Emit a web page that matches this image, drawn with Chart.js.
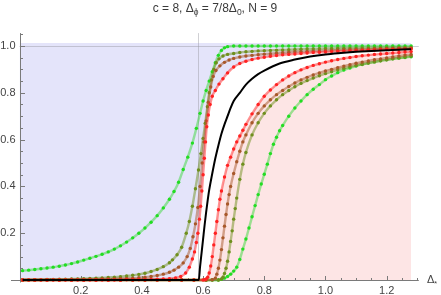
<!DOCTYPE html>
<html><head><meta charset="utf-8">
<script src="https://cdn.jsdelivr.net/npm/chart.js@4"></script>
<style>html,body{margin:0;padding:0;background:#fff}canvas{display:block}</style>
</head><body>
<canvas id="c" width="441" height="295" style="width:441px;height:295px"></canvas>
<script>
// ---------- data ----------
const xHeadL = [0.01,0.03,0.05,0.07,0.09,0.11,0.13,0.15,0.17,0.19,0.21,0.23,0.25,0.27,0.29,0.31,0.33,0.35,0.37,0.39,0.41,0.43,0.45,0.47,0.49];
const xTailL = [0.70,0.72,0.74,0.76,0.78,0.80,0.82,0.84,0.86,0.88,0.90,0.92,0.94,0.96,0.98,1.00,1.02,1.04,1.06,1.08,1.10,1.12,1.14,1.16,1.18,1.20,1.22,1.24,1.26,1.28];
const xHeadR = [0.01,0.05,0.09,0.13,0.17,0.21,0.25,0.29,0.33,0.37,0.41,0.45,0.49,0.53,0.57];
const xTailR = [0.74,0.76,0.78,0.80,0.82,0.84,0.86,0.88,0.90,0.92,0.94,0.96,0.98,1.00,1.02,1.04,1.06,1.08,1.10,1.12,1.14,1.16,1.18,1.20,1.22,1.24,1.26,1.28];
const zerosR = [0,0,0,0,0,0,0,0,0,0,0,0,0,0,0];

// left group
const g1Mid = [0.505,0.52,0.535,0.55,0.565,0.578,0.59,0.60,0.61,0.62,0.63,0.64,0.65,0.66,0.67,0.68];
const g1Y = [0.040,0.042,0.045,0.048,0.051,0.055,0.059,0.064,0.070,0.077,0.085,0.093,0.101,0.110,0.120,0.132,0.146,0.162,0.180,0.200,0.222,0.247,0.275,0.308,0.345,
  0.378,0.418,0.472,0.525,0.585,0.648,0.712,0.765,0.81,0.85,0.89,0.928,0.96,0.981,0.992,0.997,
  1.000,1.000,1.000,1.000,1.000,1.000,1.000,1.000,1.000,1.000,1.000,1.000,1.000,1.000,1.000,1.000,1.000,1.000,1.000,1.000,1.000,1.000,1.000,1.000,1.000,1.000,1.000,1.000,1.000,1.000];

const o1Mid = [0.50,0.515,0.53,0.545,0.555,0.565,0.575,0.585,0.593,0.60,0.607,0.614,0.62,0.627,0.635,0.643,0.652,0.665,0.68];
const o1Y = [0.000,0.000,0.001,0.001,0.002,0.002,0.003,0.003,0.004,0.005,0.006,0.007,0.008,0.009,0.011,0.012,0.014,0.017,0.020,0.024,0.029,0.036,0.045,0.057,0.074,
  0.086,0.108,0.14,0.20,0.25,0.315,0.39,0.47,0.54,0.605,0.67,0.74,0.80,0.855,0.90,0.928,0.945,0.957,0.964,
  0.968,0.972,0.975,0.977,0.979,0.980,0.981,0.982,0.983,0.984,0.985,0.986,0.987,0.987,0.988,0.989,0.989,0.990,0.990,0.991,0.991,0.992,0.992,0.992,0.993,0.993,0.993,0.994,0.994,0.994];

const b1Mid = [0.505,0.52,0.535,0.548,0.558,0.567,0.575,0.583,0.59,0.597,0.603,0.61,0.617,0.625,0.633,0.642,0.655,0.67,0.685];
const b1Y = [0.000,0.000,0.000,0.000,0.001,0.001,0.001,0.001,0.002,0.002,0.002,0.003,0.003,0.004,0.004,0.005,0.006,0.007,0.008,0.010,0.012,0.015,0.019,0.025,0.033,
  0.042,0.055,0.073,0.10,0.135,0.185,0.24,0.31,0.40,0.50,0.59,0.68,0.76,0.825,0.87,0.895,0.915,0.93,0.94,
  0.947,0.953,0.957,0.960,0.963,0.965,0.967,0.969,0.971,0.973,0.975,0.976,0.977,0.978,0.979,0.980,0.981,0.982,0.983,0.984,0.985,0.985,0.986,0.987,0.987,0.988,0.988,0.989,0.989,0.990];

const r1Mid = [0.51,0.527,0.543,0.555,0.565,0.572,0.578,0.583,0.588,0.592,0.596,0.60,0.604,0.608,0.612,0.617,0.623,0.63,0.64,0.652,0.665,0.68];
const r1Y = [0,0,0,0,0,0,0,0,0,0,0,0,0,0,0,0,0,0.001,0.001,0.001,0.001,0.002,0.003,0.004,0.006,
  0.009,0.015,0.03,0.055,0.09,0.12,0.16,0.20,0.26,0.315,0.38,0.45,0.52,0.59,0.655,0.705,0.75,0.785,0.81,0.837,0.86,0.885,
  0.910,0.925,0.935,0.942,0.948,0.952,0.956,0.959,0.962,0.964,0.966,0.968,0.970,0.972,0.973,0.974,0.976,0.977,0.978,0.979,0.980,0.981,0.982,0.983,0.984,0.985,0.985,0.986,0.986,0.987];

// black
const blackX = [0.01,0.586,0.59,0.595,0.60,0.605,0.61,0.615,0.62,0.63,0.64,0.65,0.66,0.67,0.68,0.69,0.70,0.72,0.74,0.76,0.78,0.80,0.85,0.90,0.95,1.00,1.05,1.10,1.15,1.20,1.25,1.28];
const blackY = [0,0,0.055,0.115,0.175,0.235,0.29,0.34,0.385,0.455,0.52,0.575,0.625,0.665,0.70,0.735,0.765,0.80,0.835,0.86,0.88,0.895,0.925,0.942,0.955,0.964,0.970,0.975,0.979,0.982,0.985,0.986];

// right group
const r2Mid = [0.60,0.605,0.61,0.615,0.62,0.625,0.63,0.635,0.64,0.645,0.65,0.655,0.66,0.67,0.68,0.69,0.70,0.71,0.72,0.73];
const r2Y = [0,0.001,0.004,0.012,0.03,0.06,0.10,0.15,0.20,0.25,0.30,0.345,0.38,0.44,0.49,0.525,0.56,0.59,0.615,0.64,
  0.665,0.71,0.75,0.785,0.812,0.835,0.855,0.872,0.886,0.898,0.908,0.917,0.924,0.931,0.937,0.942,0.947,0.951,0.955,0.958,0.961,0.964,0.966,0.968,0.970,0.972,0.974,0.976];

const b2Mid = [0.61,0.63,0.64,0.645,0.65,0.655,0.66,0.665,0.67,0.675,0.68,0.685,0.69,0.70,0.71,0.72,0.73];
const b2Y = [0,0.001,0.008,0.025,0.05,0.085,0.13,0.18,0.23,0.28,0.325,0.365,0.40,0.455,0.505,0.55,0.59,
  0.62,0.672,0.712,0.744,0.77,0.792,0.81,0.827,0.842,0.855,0.866,0.876,0.885,0.893,0.900,0.907,0.914,0.920,0.926,0.931,0.936,0.941,0.945,0.949,0.953,0.957,0.961,0.964];

const o2Mid = [0.61,0.63,0.65,0.66,0.665,0.67,0.675,0.68,0.685,0.69,0.695,0.70,0.705,0.71,0.72,0.73];
const o2Y = [0,0,0,0.004,0.012,0.028,0.05,0.08,0.12,0.165,0.21,0.26,0.305,0.35,0.43,0.495,
  0.545,0.62,0.672,0.712,0.744,0.77,0.792,0.81,0.826,0.84,0.852,0.863,0.873,0.882,0.89,0.898,0.905,0.911,0.917,0.922,0.927,0.932,0.937,0.941,0.945,0.949,0.953,0.957];

const g2Mid = [0.61,0.63,0.65,0.66,0.67,0.68,0.69,0.70,0.71,0.72,0.73,0.74,0.75,0.76,0.77,0.78,0.79,0.80,0.81,0.82,0.83,0.84,0.85,0.86,
  0.88,0.90,0.92,0.94,0.96,0.98,1.00,1.02,1.04,1.06,1.08,1.10,1.12,1.14,1.16,1.18,1.20,1.22,1.24,1.26,1.28];
const g2Y = [0,0,0,0.003,0.008,0.015,0.025,0.038,0.055,0.088,0.132,0.175,0.222,0.27,0.318,0.365,0.41,0.452,0.495,0.54,0.58,0.61,0.638,0.66,
  0.70,0.735,0.765,0.792,0.815,0.835,0.856,0.872,0.886,0.897,0.906,0.914,0.921,0.927,0.932,0.937,0.941,0.945,0.948,0.951,0.954];

const xTicks = [0.2,0.4,0.6,0.8,1.0,1.2];
const yTicks = [0.2,0.4,0.6,0.8,1.0];
const xMin = 0, xMax = 1.305, yMin = 0, yMax = 1.055;
const blueTop = 1.013;
const markerX = 0.585;

// ---------- build ----------
function pts(xs, ys){ return xs.map((x,i)=>({x:x, y:ys[i]})); }
const FONT = '"Liberation Sans", Arial, Helvetica, sans-serif';

const G1 = pts(xHeadL.concat(g1Mid, xTailL), g1Y);
const O1 = pts(xHeadL.concat(o1Mid, xTailL), o1Y);
const B1 = pts(xHeadL.concat(b1Mid, xTailL), b1Y);
const R1 = pts(xHeadL.concat(r1Mid, xTailL), r1Y);
const BK = pts(blackX, blackY);
const R2 = pts(xHeadR.concat(r2Mid, xTailR), zerosR.concat(r2Y));
const B2 = pts(xHeadR.concat(b2Mid, xTailR), zerosR.concat(b2Y));
const O2 = pts(xHeadR.concat(o2Mid, xTailR), zerosR.concat(o2Y));
const G2 = pts(xHeadR.concat(g2Mid), zerosR.concat(g2Y));

const COL = {
  g: ['#22dd22','rgba(60,215,60,0.5)'],
  o: ['#6f8f1e','rgba(111,143,30,0.5)'],
  b: ['#a8582a','rgba(168,88,42,0.5)'],
  r: ['#ff2222','rgba(255,40,40,0.5)']
};
function curve(data, c, order){
  return {data, borderColor:c[1], borderWidth:2.4, pointRadius:1.7, pointBorderWidth:0,
    pointBackgroundColor:c[0], fill:false, order, clip:false, cubicInterpolationMode:'monotone'};
}

const datasets = [
  {data:[{x:0,y:0}].concat(R1), fill:{value:blueTop}, backgroundColor:'#e4e4fa', borderWidth:0, pointRadius:0, order:21, cubicInterpolationMode:'monotone'},
  {data:R2, fill:'origin', backgroundColor:'#fde5e5', borderWidth:0, pointRadius:0, order:20, cubicInterpolationMode:'monotone'},
  {data:BK, borderColor:'#000', borderWidth:2, pointRadius:0, fill:false, order:0, clip:false, cubicInterpolationMode:'monotone'},
  curve(R1, COL.r, 1), curve(B1, COL.b, 2), curve(O1, COL.o, 3), curve(G1, COL.g, 4),
  curve(R2, COL.r, 5), curve(B2, COL.b, 6), curve(O2, COL.o, 7), curve(G2, COL.g, 8)
];

function drawRich(ctx, pieces, cx, base){
  let w = 0;
  pieces.forEach(p=>{ ctx.font = p.s+'px '+FONT; p.w = ctx.measureText(p.t).width; w += p.w; });
  let x = cx - w/2;
  pieces.forEach(p=>{ ctx.font = p.s+'px '+FONT; ctx.fillText(p.t, x, base + (p.dy||0)); x += p.w; });
}

const decor = {
  id:'decor',
  afterDatasetDraw(chart, args){
    if (args.index !== 1) return;
    const ctx = chart.ctx, xs = chart.scales.x, ys = chart.scales.y;
    const X = v=>xs.getPixelForValue(v), Y = v=>ys.getPixelForValue(v);
    ctx.save();
    ctx.strokeStyle = 'rgba(150,150,160,0.45)'; ctx.lineWidth = 1;
    ctx.beginPath();
    const gy = Math.round(Y(1))+0.5;
    ctx.moveTo(X(0), gy); ctx.lineTo(X(xMax), gy);
    const gx = Math.round(X(markerX))+0.5;
    ctx.moveTo(gx, Y(yMax)); ctx.lineTo(gx, Y(0));
    ctx.stroke();
    ctx.strokeStyle = '#7a7a7a';
    const ax = Math.round(X(0))+0.5, ay = Math.round(Y(0))+0.5;
    ctx.beginPath();
    ctx.moveTo(11, ay); ctx.lineTo(X(xMax), ay);
    ctx.moveTo(ax, Y(yMax)); ctx.lineTo(ax, ay+2);
    for (let k=1; k*0.05 <= xMax+1e-9; k++){
      const v = k*0.05, px = Math.round(X(v))+0.5, major = (k%4===0);
      ctx.moveTo(px, ay); ctx.lineTo(px, ay-(major?4.5:2.5));
    }
    for (let k=1; k*0.05 <= yMax+1e-9; k++){
      const v = k*0.05, py = Math.round(Y(v))+0.5, major = (k%4===0);
      ctx.moveTo(ax, py); ctx.lineTo(ax+(major?4.5:2.5), py);
    }
    ctx.stroke();
    ctx.restore();
  },
  afterDraw(chart){
    const ctx = chart.ctx;
    ctx.save();
    ctx.fillStyle = '#3a3a3a'; ctx.textBaseline = 'alphabetic';
    drawRich(ctx, [
      {t:'c = 8, \u0394', s:12},{t:'\u03d5', s:8.5, dy:2.5},{t:' = 7/8\u0394', s:12},
      {t:'0', s:8.5, dy:2.5},{t:', N = 9', s:12}], 215, 12);
    ctx.fillStyle = '#444';
    ctx.font = '11px '+FONT; ctx.fillText('\u0394', 427, 283);
    ctx.font = '8px '+FONT; ctx.fillText('*', 434, 286);
    ctx.restore();
  }
};

new Chart(document.getElementById('c'), {
  type:'line',
  data:{datasets},
  options:{
    responsive:false, animation:false, devicePixelRatio:1,
    layout:{padding:{left:0, top:33.1, right:22.2, bottom:0}},
    plugins:{legend:{display:false}, tooltip:{enabled:false}, title:{display:false}},
    elements:{point:{hitRadius:0, hoverRadius:0}},
    scales:{
      x:{type:'linear', min:xMin, max:xMax,
        afterFit:s=>{s.height = 15;},
        afterBuildTicks:s=>{s.ticks = xTicks.map(v=>({value:v}));},
        grid:{display:false, drawTicks:false}, border:{display:false},
        ticks:{padding:4, color:'#444', font:{family:FONT, size:11}, maxRotation:0, autoSkip:false,
          callback:v=>v.toFixed(1)}},
      y:{type:'linear', min:yMin, max:yMax,
        afterFit:s=>{s.width = 19.5;},
        afterBuildTicks:s=>{s.ticks = yTicks.map(v=>({value:v}));},
        grid:{display:false, drawTicks:false}, border:{display:false},
        ticks:{padding:4, color:'#444', font:{family:FONT, size:11}, autoSkip:false,
          callback:v=>v.toFixed(1)}}
    }
  },
  plugins:[decor]
});
</script></body></html>
